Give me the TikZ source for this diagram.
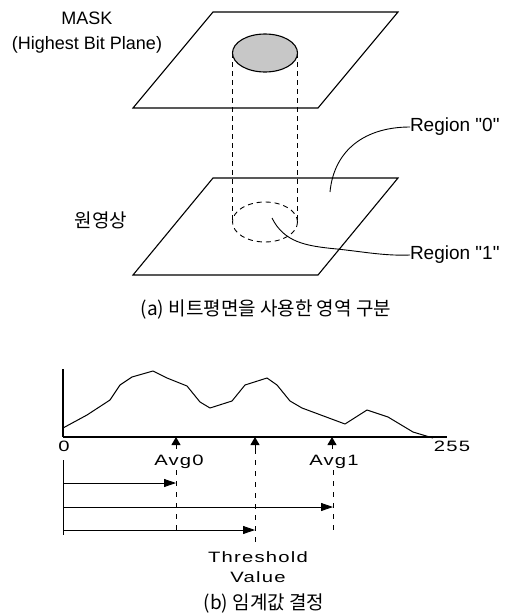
\documentclass[tikz,border=0pt]{standalone}
\usepackage{fontspec}
\setmainfont{Liberation Sans}
\newfontfamily\kofont{Noto Sans CJK KR}
\newfontfamily\widefont[FakeStretch=1.35,LetterSpace=8]{Liberation Sans}
\usetikzlibrary{arrows.meta}

\begin{document}
\begin{tikzpicture}[
x=1pt,
y=-1pt,
every node/.style={inner sep=0pt,outer sep=0pt},
plane/.style={draw,line width=1.1pt,line join=miter},
hid/.style={draw,dash pattern=on 5pt off 4pt,line width=0.9pt},
hidb/.style={draw,dash pattern=on 5pt off 6pt,line width=0.9pt},
lead/.style={draw,line width=0.9pt},
lbl/.style={font=\fontsize{19}{21}\selectfont,anchor=west},
masklbl/.style={font=\fontsize{18}{25}\selectfont,align=center},
ko/.style={font=\kofont\fontsize{19}{21}\selectfont},
wide/.style={font=\widefont\fontsize{15}{20}\selectfont,align=center},
uparr/.style={-{Triangle[length=8pt,width=9pt]},line width=1pt},
rarr/.style={-{Triangle[length=12pt,width=8pt]},line width=0.8pt}
]
\useasboundingbox (0,0) rectangle (510,616);

% (a) bit planes
\draw[plane] (213,12) -- (398,12) -- (318,108) -- (133,108) -- cycle;
\draw[plane] (213,178) -- (398,178) -- (318,275) -- (133,275) -- cycle;
\draw[hid] (232.5,53) -- (232.5,222);
\draw[hid] (297.5,53) -- (297.5,222);
\draw[line width=1.1pt,fill=black!22] (265,53) ellipse [x radius=32.5,y radius=19];
\draw[hid] (265,222) ellipse [x radius=32.5,y radius=20];

\node[masklbl] (mask) at (87,33) {MASK\\(Highest Bit Plane)};
\node[ko] (orig) at (101,220) {원영상};
\node[lbl] (reg0) at (410,127) {Region \textquotedbl0\textquotedbl};
\node[lbl] (reg1) at (410,255) {Region \textquotedbl1\textquotedbl};
\coordinate (r0pt) at (330,192);
\coordinate (r1pt) at (272,218);
\draw[lead] (r0pt) .. controls (334,150) and (365,127) .. (reg0.west);
\draw[lead] (r1pt) .. controls (284,242) and (305,246) .. (337,249) .. controls (365,252) and (385,256) .. (reg1.west);
\node[ko] (capa) at (266,310) {(a) 비트평면을\ 사용한\ 영역\ 구분};

% (b) histogram
\coordinate (o) at (63,437);
\coordinate (ytop) at (63,369);
\coordinate (xend) at (447,437);
\draw[line width=2.4pt] (ytop) -- (o);
\draw[line width=2pt] (o) -- (xend);
\draw[line width=1pt,line join=round] plot coordinates {(63,428) (87,415) (110,400) (120,385) (132,377) (153,371) (167,378) (187,386) (200,402) (210,408) (232,401) (245,385) (267,378) (277,385) (290,401) (302,408) (345,424) (367,410) (388,417) (413,432) (433,438)};
\node[wide] (zero) at (64,446) {0};
\node[wide] (max) at (452,446) {255};

\coordinate (a0) at (176,437);
\coordinate (th) at (255,437);
\coordinate (a1) at (332,437);
\draw[uparr] (176,449) -- (a0);
\draw[uparr] (255,449) -- (th);
\draw[uparr] (332,449) -- (a1);
\node[wide] (avg0) at (179,462) {Avg0};
\node[wide] (avg1) at (334,462) {Avg1};
\node[wide] (thr) at (258,567) {Threshold\\Value};

\coordinate (a0b) at (176,533);
\coordinate (thb) at (255,544);
\coordinate (a1b) at (333,533);
\draw[hidb] (176,470) -- (a0b);
\draw[hidb] (255,449) -- (thb);
\draw[hidb] (333,470) -- (a1b);

\coordinate (ltop) at (63,460);
\coordinate (lbot) at (63,535);
\draw[line width=1pt] (ltop) -- (lbot);
\draw[rarr] (63,483) -- (176,483);
\draw[rarr] (63,507) -- (333,507);
\draw[rarr] (63,530) -- (255,530);

\node[ko] (capb) at (264,603) {(b) 임계값\ 결정};
\end{tikzpicture}
\end{document}
